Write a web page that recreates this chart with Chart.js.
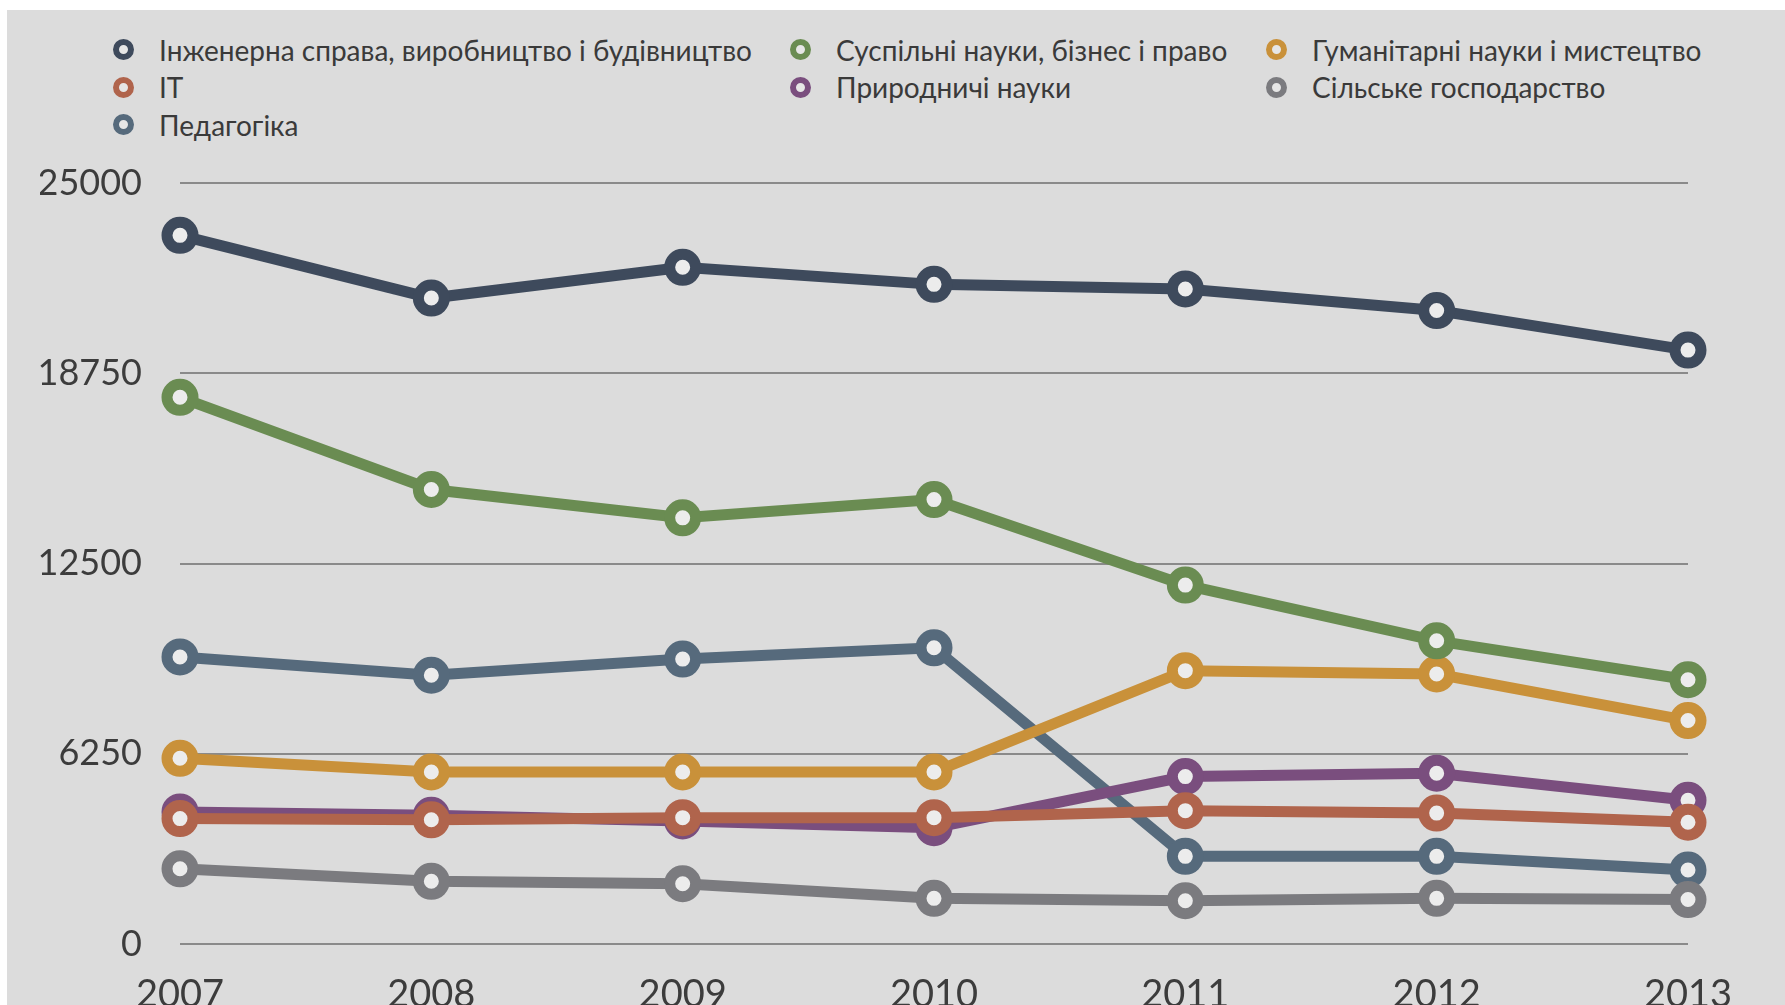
<!DOCTYPE html>
<html>
<head>
<meta charset="utf-8">
<script src="https://cdn.jsdelivr.net/npm/chart.js@4.4.1/dist/chart.umd.min.js"></script>
<style>
  body { margin: 0; background: #fff; }
  .bg { position: absolute; left: 7px; top: 10px; right: 0; bottom: 0; background: #dcdcdc; }
  .wrap { position: absolute; left: 0; top: 0; width: 1785px; height: 1005px; overflow: hidden; }
  .plot { position: absolute; left: 0; top: 0; width: 1785px; height: 1005px; }
  .legend {
    position: absolute; left: 113px; top: 31px;
    display: grid; grid-template-columns: 677px 476px auto; grid-auto-rows: 37.5px;
    font-family: Lato, sans-serif; font-size: 28px; color: #3a3a3a;
  }
  .legend .item { display: flex; align-items: center; white-space: nowrap; }
  .legend .mark {
    width: 9px; height: 9px; border-radius: 50%; border: 6px solid; background: #e6e6e6;
    margin-right: 25px; flex: none;
  }
</style>
</head>
<body>
<div class="wrap">
  <div class="bg"></div>
  <div class="legend" id="legend"></div>
  <div class="plot"><canvas id="chart"></canvas></div>
</div>
<script>
const years = ['2007', '2008', '2009', '2010', '2011', '2012', '2013'];
const yTicks = [0, 6250, 12500, 18750, 25000];

const engineering = [23280, 21220, 22230, 21670, 21520, 20810, 19510];
const social = [17960, 14930, 14000, 14600, 11790, 9960, 8680];
const humanities = [6100, 5650, 5650, 5650, 8980, 8870, 7340];
const it = [4120, 4080, 4150, 4150, 4380, 4300, 4000];
const natural = [4340, 4230, 4040, 3820, 5500, 5610, 4720];
const agriculture = [2470, 2060, 1980, 1500, 1420, 1500, 1460];
const pedagogy = [9430, 8830, 9360, 9730, 2880, 2880, 2430];

const series = [
  { name: 'Інженерна справа, виробництво і будівництво', data: engineering, color: '#3e4a5c' },
  { name: 'Суспільні науки, бізнес і право', data: social, color: '#6a8c52' },
  { name: 'Гуманітарні науки і мистецтво', data: humanities, color: '#c9913a' },
  { name: 'IT', data: it, color: '#b0644c' },
  { name: 'Природничі науки', data: natural, color: '#7a4e7e' },
  { name: 'Сільське господарство', data: agriculture, color: '#7b7b7f' },
  { name: 'Педагогіка', data: pedagogy, color: '#566a7c' }
];

// lower order = drawn on top
const drawOrder = { 'IT': 1, 'Природничі науки': 2, 'Сільське господарство': 3,
  'Суспільні науки, бізнес і право': 4, 'Гуманітарні науки і мистецтво': 5, 'Педагогіка': 6,
  'Інженерна справа, виробництво і будівництво': 7 };

const legend = document.getElementById('legend');
series.forEach(s => {
  const item = document.createElement('div');
  item.className = 'item';
  item.innerHTML = `<span class="mark" style="border-color:${s.color}"></span>${s.name}`;
  legend.appendChild(item);
});

new Chart(document.getElementById('chart'), {
  type: 'line',
  data: {
    labels: years,
    datasets: series.map(s => ({
      label: s.name,
      data: s.data,
      order: drawOrder[s.name],
      borderColor: s.color,
      borderWidth: 11,
      pointRadius: 13,
      pointBorderWidth: 11,
      pointBackgroundColor: '#ececec',
      pointBorderColor: s.color,
      tension: 0
    }))
  },
  options: {
    responsive: true,
    maintainAspectRatio: false,
    animation: false,
    layout: { padding: { left: 40, top: 183, right: 97, bottom: 0 } },
    plugins: { legend: { display: false }, tooltip: { enabled: false } },
    scales: {
      x: {
        grid: { display: false },
        border: { display: false },
        ticks: { font: { family: 'Lato, sans-serif', size: 38 }, color: '#3c3c3c', padding: 20, maxRotation: 0 },
        afterFit: s => { s.height = 61; }
      },
      y: {
        min: 0,
        max: 25000,
        afterBuildTicks: s => { s.ticks = yTicks.map(v => ({ value: v })); },
        grid: { color: '#8a8a8a', lineWidth: 2, drawTicks: false },
        border: { display: false },
        ticks: {
          font: { family: 'Lato, sans-serif', size: 36 }, color: '#3c3c3c', padding: 38,
          callback: v => String(v)
        },
        afterFit: s => { s.width = 140; }
      }
    }
  }
});
</script>
</body>
</html>
